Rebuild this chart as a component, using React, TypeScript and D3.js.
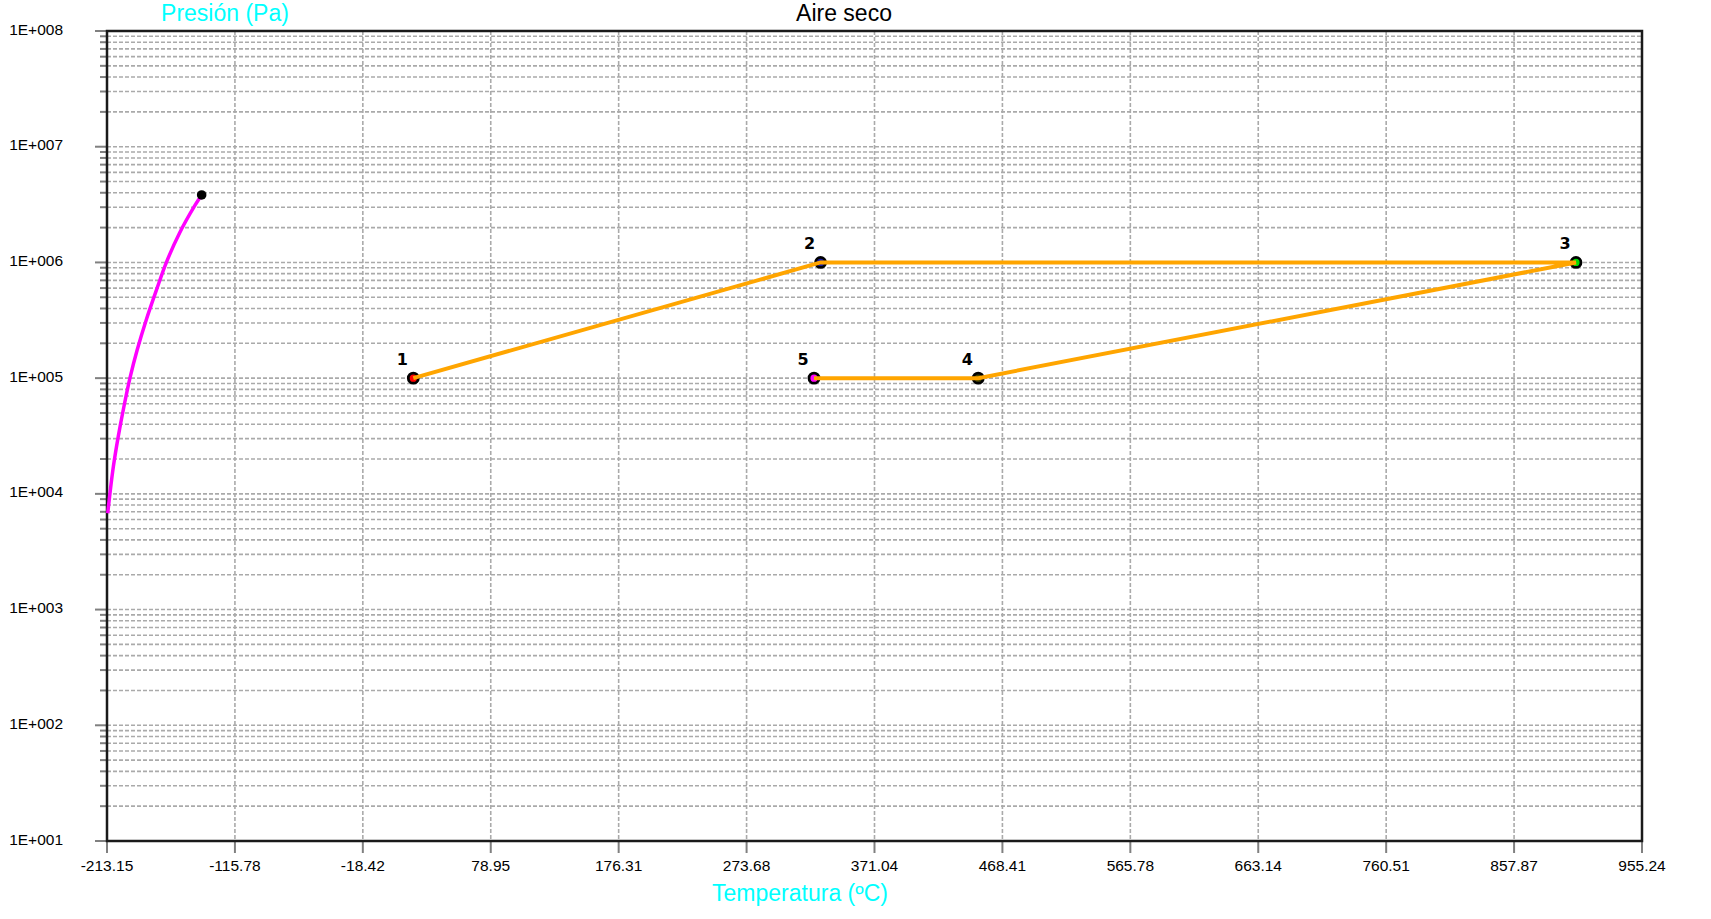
import React from "react";
import * as d3 from "d3";

// Eje X: temperatura (ºC)
const xTicks = [
  -213.15, -115.78, -18.42, 78.95, 176.31, 273.68, 371.04, 468.41, 565.78,
  663.14, 760.51, 857.87, 955.24,
];
// Eje Y: presión (Pa), log
const yDecades = [10, 100, 1e3, 1e4, 1e5, 1e6, 1e7, 1e8];
const yLabels = ["1E+001", "1E+002", "1E+003", "1E+004", "1E+005", "1E+006", "1E+007", "1E+008"];

// Curva de saturación
const satTemps = [-212.6, -210.9, -208.3, -204.6, -200.3, -195.6, -190.2, -183.3, -175.5, -167.8, -158.0, -146.0, -141.1];
const satPressures = [6800, 10100, 17200, 31200, 56600, 101000, 175000, 318000, 578000, 1010000, 1790000, 3140000, 3830000];

// Estados del ciclo
const stateNames = ["1", "2", "3", "4", "5"];
const stateTemps = [20, 330, 905, 450, 325];
const statePressures = [1e5, 1e6, 1e6, 1e5, 1e5];
const stateFills = ["#ff0000", "#1a1aa0", "#00dd00", "#444400", "#ff00ff"];

const W = 1711;
const H = 919;
const margin = { left: 107, right: 1642, top: 31, bottom: 841 };

const App: React.FC = () => {
  const x = d3
    .scaleLinear()
    .domain([xTicks[0], xTicks[xTicks.length - 1]])
    .range([margin.left, margin.right]);
  const y = d3.scaleLog().domain([10, 1e8]).range([margin.bottom, margin.top]);

  const logTicks = y.ticks();
  const isDecade = (v: number) => Math.abs(Math.log10(v) - Math.round(Math.log10(v))) < 1e-9;

  const satLine = d3
    .line<number>()
    .x((_, i) => x(satTemps[i]))
    .y((_, i) => y(satPressures[i]))
    .curve(d3.curveCatmullRom.alpha(0.5));

  const cycleLine = d3
    .line<number>()
    .x((_, i) => x(stateTemps[i]))
    .y((_, i) => y(statePressures[i]));

  const font = "'Liberation Sans', Arial, sans-serif";

  return (
    <svg
      width={W}
      height={H}
      style={{ position: "absolute", left: 0, top: 0, background: "#fff" }}
    >
      {/* rejilla horizontal */}
      {logTicks.map((v, i) => (
        <g key={"h" + i}>
          <line
            x1={margin.left}
            x2={margin.right}
            y1={y(v)}
            y2={y(v)}
            stroke="#aaa"
            strokeWidth={1.6}
            strokeDasharray="4,2"
          />
          <line
            x1={isDecade(v) ? margin.left - 12 : margin.left - 7}
            x2={margin.left}
            y1={y(v)}
            y2={y(v)}
            stroke="#808080"
            strokeWidth={2}
          />
        </g>
      ))}
      {/* rejilla vertical */}
      {xTicks.map((t, i) => (
        <g key={"v" + i}>
          <line
            x1={x(t)}
            x2={x(t)}
            y1={margin.top}
            y2={margin.bottom}
            stroke="#aaa"
            strokeWidth={1.6}
            strokeDasharray="4,2"
          />
          <line
            x1={x(t)}
            x2={x(t)}
            y1={margin.bottom}
            y2={margin.bottom + 12}
            stroke="#808080"
            strokeWidth={2}
          />
          <text
            x={x(t)}
            y={871}
            textAnchor="middle"
            fontFamily={font}
            fontSize={15.5}
            fill="#000"
          >
            {t.toFixed(2)}
          </text>
        </g>
      ))}
      {/* etiquetas Y */}
      {yDecades.map((v, i) => (
        <text
          key={"yl" + i}
          x={63}
          y={y(v) + 3.5}
          textAnchor="end"
          fontFamily={font}
          fontSize={15.5}
          fill="#000"
        >
          {yLabels[i]}
        </text>
      ))}

      {/* marco */}
      <rect
        x={margin.left}
        y={margin.top}
        width={margin.right - margin.left}
        height={margin.bottom - margin.top}
        fill="none"
        stroke="#1a1a1a"
        strokeWidth={2.5}
      />

      {/* curva de saturación */}
      <path
        d={satLine(satTemps) || ""}
        fill="none"
        stroke="#ff00ff"
        strokeWidth={3.5}
      />
      <circle
        cx={x(satTemps[satTemps.length - 1])}
        cy={y(satPressures[satPressures.length - 1])}
        r={4.8}
        fill="#000"
      />

      {/* ciclo */}
      {stateNames.map((n, i) => (
        <circle
          key={"c" + n}
          cx={x(stateTemps[i])}
          cy={y(statePressures[i])}
          r={5}
          fill={stateFills[i]}
          stroke="#000"
          strokeWidth={2.8}
        />
      ))}
      <path
        d={cycleLine(stateTemps) || ""}
        fill="none"
        stroke="#ffa500"
        strokeWidth={4}
      />
      {stateNames.map((n, i) => (
        <text
          key={"t" + n}
          x={x(stateTemps[i]) - 11}
          y={y(statePressures[i]) - 13}
          textAnchor="middle"
          fontFamily="'DejaVu Sans', Verdana, sans-serif"
          fontWeight="bold"
          fontSize={16}
          fill="#000"
        >
          {n}
        </text>
      ))}

      {/* títulos */}
      <text x={844} y={21} textAnchor="middle" fontFamily={font} fontSize={23} fill="#000">
        Aire seco
      </text>
      <text x={225} y={21} textAnchor="middle" fontFamily={font} fontSize={23} fill="#00ffff">
        Presión (Pa)
      </text>
      <text x={800} y={901} textAnchor="middle" fontFamily={font} fontSize={23} fill="#00ffff">
        Temperatura (ºC)
      </text>
    </svg>
  );
};

export default App;
